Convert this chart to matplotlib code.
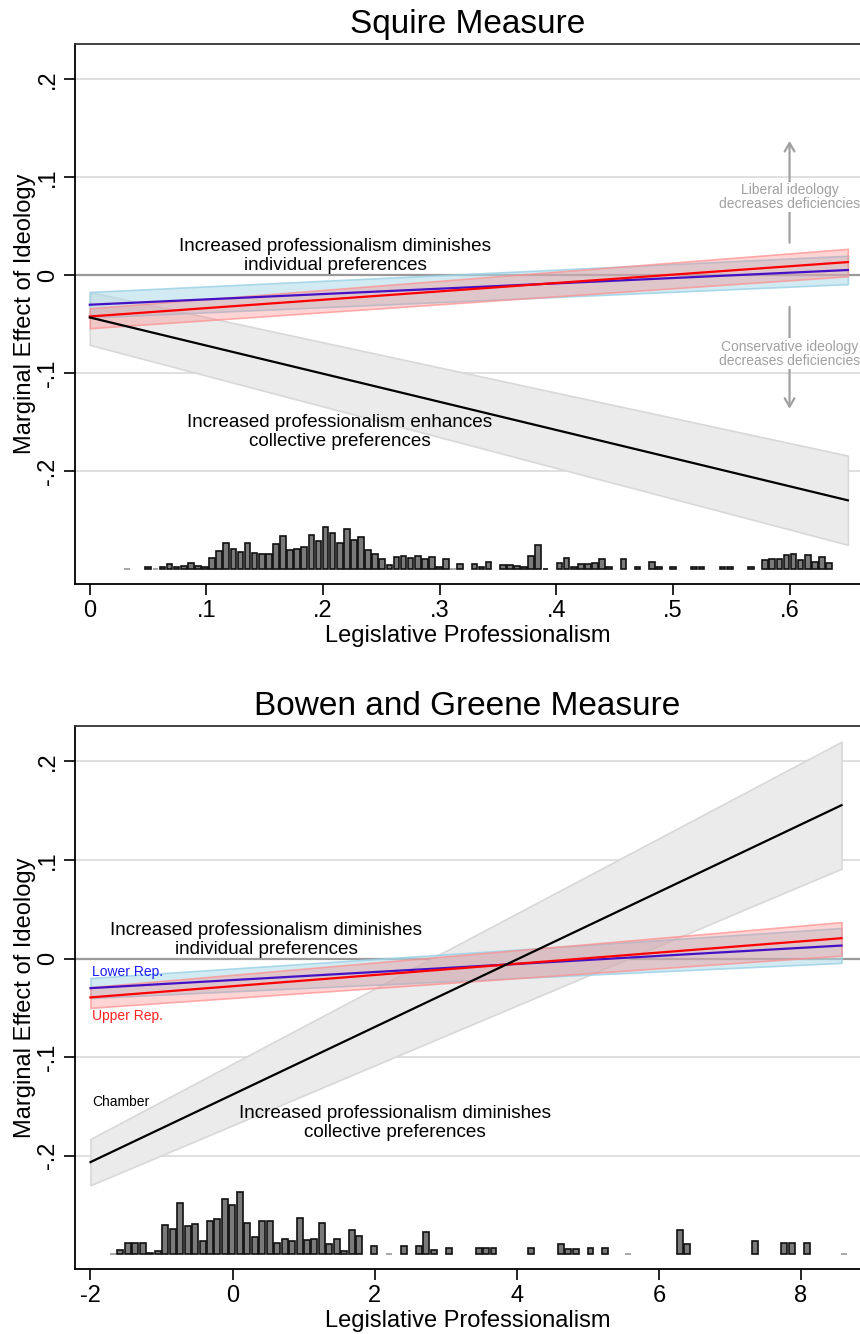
import numpy as np
import matplotlib.pyplot as plt

plt.rcParams['font.family'] = ['Liberation Sans', 'DejaVu Sans']

nan = np.nan

# ---- Squire measure (top) ----
sq_x = [0.0, 0.65]
sq_chamber = [-0.043, -0.2296]
sq_chamber_lo = [-0.071, -0.275]
sq_chamber_hi = [-0.017, -0.184]
sq_lower = [-0.030, 0.0054]
sq_lower_lo = [-0.043, -0.009]
sq_lower_hi = [-0.017, 0.020]
sq_upper = [-0.042, 0.0135]
sq_upper_lo = [-0.054, -0.001]
sq_upper_hi = [-0.0336, 0.027]

sq_hist_start = 0.0319
sq_hist_width = 0.00608
sq_hist = [0, nan, nan, 2.7, 0, 2.7, 5.3, 2.7, 3.7, 6.7,
           3.7, 2, 11.3, 18.3, 26.7, 20, 17.3, 26.7, 16.3, 15.3,
           15.3, 25, 33.3, 19.7, 20.3, 22, 34.3, 28.3, 42.3, 36.7,
           26.7, 40.7, 29, 32, 19.3, 15, 10.3, 4, 12, 13.3,
           11, 13.3, 10.7, 12.3, 2, 10.3, 0, 5, nan, 5.3,
           2.7, 7.3, nan, 4.7, 4.7, 3.7, 2, 13.3, 24.3, 0.7,
           nan, 6, 11, 2.7, 5.3, 5.3, 6.7, 10, 2.7, nan,
           10, nan, 2.7, nan, 7, 2.7, nan, 2.7, nan, nan,
           2, 2.7, nan, nan, 2.7, 2.7, nan, nan, 2.7, nan,
           9, 10.7, 10.7, 14, 15.7, 9.3, 14.3, 7.3, 12.3, 6]
sq_xticks = [0, 0.1, 0.2, 0.3, 0.4, 0.5, 0.6]
sq_xticklabels = ['0', '.1', '.2', '.3', '.4', '.5', '.6']

# ---- Bowen and Greene measure (bottom) ----
bg_x = [-2.0, 8.57]
bg_chamber = [-0.2065, 0.1556]
bg_chamber_lo = [-0.230, 0.0912]
bg_chamber_hi = [-0.183, 0.220]
bg_lower = [-0.030, 0.0132]
bg_lower_lo = [-0.040, -0.0044]
bg_lower_hi = [-0.0197, 0.031]
bg_upper = [-0.0394, 0.0207]
bg_upper_lo = [-0.050, 0.003]
bg_upper_hi = [-0.029, 0.037]

bg_hist_start = -1.683
bg_hist_width = 0.105
bg_hist = [0, 4, 11.7, 11.7, 11.7, 1.3, 3, 29, 25, 50.7,
           28, 29.7, 13.7, 33.3, 35, 54.7, 48.7, 61.7, 30.7, 17.3,
           33, 33, 11.3, 15.7, 13, 35.7, 14.7, 15.7, 30.7, 10.7,
           15.7, 3.3, 23.7, 18, nan, 8, nan, 0, nan, 8.3,
           nan, 8.3, 21.7, 4, nan, 6.3, nan, nan, nan, 6.3,
           6.3, 6.3, nan, nan, nan, nan, 6.3, nan, nan, nan,
           10.7, 5.7, 5, nan, 6.3, nan, 6.3, nan, nan, 0,
           nan, nan, nan, nan, nan, nan, 23.7, 10.3, nan, nan,
           nan, nan, nan, nan, nan, nan, 13.7, nan, nan, nan,
           11, 11.7, nan, 11.7, nan, nan, nan, nan, 0]
bg_xticks = [-2, 0, 2, 4, 6, 8]
bg_xticklabels = ['-2', '0', '2', '4', '6', '8']

yticks = [-0.2, -0.1, 0, 0.1, 0.2]
yticklabels = ['-.2', '-.1', '0', '.1', '.2']
hist_base = -0.30
hist_scale = 0.001017


def draw_panel(ax, x, ch, ch_lo, ch_hi, lo, lo_lo, lo_hi, up, up_lo, up_hi,
               hist, h0, hw, xlim, title):
    for yv in [-0.2, -0.1, 0.1, 0.2]:
        ax.axhline(yv, color='#dddddd', lw=1.3, zorder=0)
    ax.axhline(0, color='#9a9a9a', lw=1.6, zorder=0)

    ax.fill_between(x, ch_lo, ch_hi, facecolor='#ebebeb', edgecolor='#d8d8d8',
                    lw=1.2, zorder=2)
    ax.fill_between(x, lo_lo, lo_hi, facecolor=(0.68, 0.85, 0.90, 0.55),
                    edgecolor=(0.6, 0.82, 0.9, 0.8), lw=1.2, zorder=3)
    ax.fill_between(x, up_lo, up_hi, facecolor=(1.0, 0.45, 0.45, 0.3),
                    edgecolor=(1.0, 0.55, 0.55, 0.7), lw=1.2, zorder=4)
    ax.plot(x, lo, color='#4412c4', lw=1.6, zorder=5)
    ax.plot(x, up, color='#ff0000', lw=1.6, zorder=6)
    ax.plot(x, ch, color='black', lw=1.6, zorder=7)

    h = np.array(hist, dtype=float)
    centers = h0 + hw * np.arange(len(h))
    ok = ~np.isnan(h)
    edge = ['#9a9a9a' if v == 0 else '#111111' for v in h[ok]]
    ax.bar(centers[ok], h[ok] * hist_scale, width=hw * 0.8, bottom=hist_base,
           color='#7a7a7a', edgecolor=edge, lw=1.2, zorder=3)

    ax.set_xlim(*xlim)
    ax.set_ylim(-0.315, 0.236)
    ax.set_yticks(yticks)
    ax.set_yticklabels(yticklabels, rotation=90, va='center')
    ax.tick_params(axis='both', direction='out', length=8, width=1.2,
                   labelsize=17, color='black')
    ax.set_ylabel('Marginal Effect of Ideology', fontsize=17, labelpad=1)
    ax.set_xlabel('Legislative Professionalism', fontsize=17, labelpad=2)
    ax.set_title(title, fontsize=24, pad=8)
    ax.spines['right'].set_visible(False)
    ax.spines['top'].set_color('#333333')
    for s in ['left', 'bottom', 'top']:
        ax.spines[s].set_linewidth(1.3)


fig = plt.figure(figsize=(8.6, 13.34), dpi=100)
ax1 = fig.add_axes([0.0872, 0.5622, 0.9128, 0.4048])
ax2 = fig.add_axes([0.0872, 0.0487, 0.9128, 0.4071])

draw_panel(ax1, sq_x, sq_chamber, sq_chamber_lo, sq_chamber_hi,
           sq_lower, sq_lower_lo, sq_lower_hi, sq_upper, sq_upper_lo, sq_upper_hi,
           sq_hist, sq_hist_start, sq_hist_width, (-0.0127, 0.6604), 'Squire Measure')
ax1.set_xticks(sq_xticks)
ax1.set_xticklabels(sq_xticklabels)

ax1.text(0.2105, 0.0198, 'Increased professionalism diminishes\nindividual preferences',
         ha='center', va='center', fontsize=13.6, linespacing=1.12, zorder=8)
ax1.text(0.214, -0.16, 'Increased professionalism enhances\ncollective preferences',
         ha='center', va='center', fontsize=13.6, linespacing=1.12, zorder=8)

arrow_kw = dict(arrowstyle='->,head_width=0.35,head_length=0.6', color='#a0a0a0', lw=1.6)
ax1.annotate('', xy=(0.6, 0.140), xytext=(0.6, 0.0305), arrowprops=arrow_kw, zorder=8)
ax1.annotate('', xy=(0.6, -0.139), xytext=(0.6, -0.0295), arrowprops=arrow_kw, zorder=8)
ax1.text(0.6, 0.080, 'Liberal ideology\ndecreases deficiencies', ha='center', va='center',
         fontsize=10, color='#a0a0a0', linespacing=1.0, zorder=9,
         bbox=dict(facecolor='white', edgecolor='none', pad=1))
ax1.text(0.6, -0.080, 'Conservative ideology\ndecreases deficiencies', ha='center',
         va='center', fontsize=10, color='#a0a0a0', linespacing=1.0, zorder=9,
         bbox=dict(facecolor='white', edgecolor='none', pad=1))

draw_panel(ax2, bg_x, bg_chamber, bg_chamber_lo, bg_chamber_hi,
           bg_lower, bg_lower_lo, bg_lower_hi, bg_upper, bg_upper_lo, bg_upper_hi,
           bg_hist, bg_hist_start, bg_hist_width, (-2.218, 8.83), 'Bowen and Greene Measure')
ax2.set_xticks(bg_xticks)
ax2.set_xticklabels(bg_xticklabels)

ax2.text(0.475, 0.0188, 'Increased professionalism diminishes\nindividual preferences',
         ha='center', va='center', fontsize=13.6, linespacing=1.12, zorder=8)
ax2.text(2.29, -0.167, 'Increased professionalism diminishes\ncollective preferences',
         ha='center', va='center', fontsize=13.6, linespacing=1.12, zorder=8)
ax2.text(-1.98, -0.0132, 'Lower Rep.', color='#1a1aff', fontsize=10, va='center', zorder=8)
ax2.text(-1.98, -0.0587, 'Upper Rep.', color='#ff2020', fontsize=10, va='center', zorder=8)
ax2.text(-1.98, -0.146, 'Chamber', color='black', fontsize=10, va='center', zorder=8)

fig.savefig('out.png', dpi=100)
